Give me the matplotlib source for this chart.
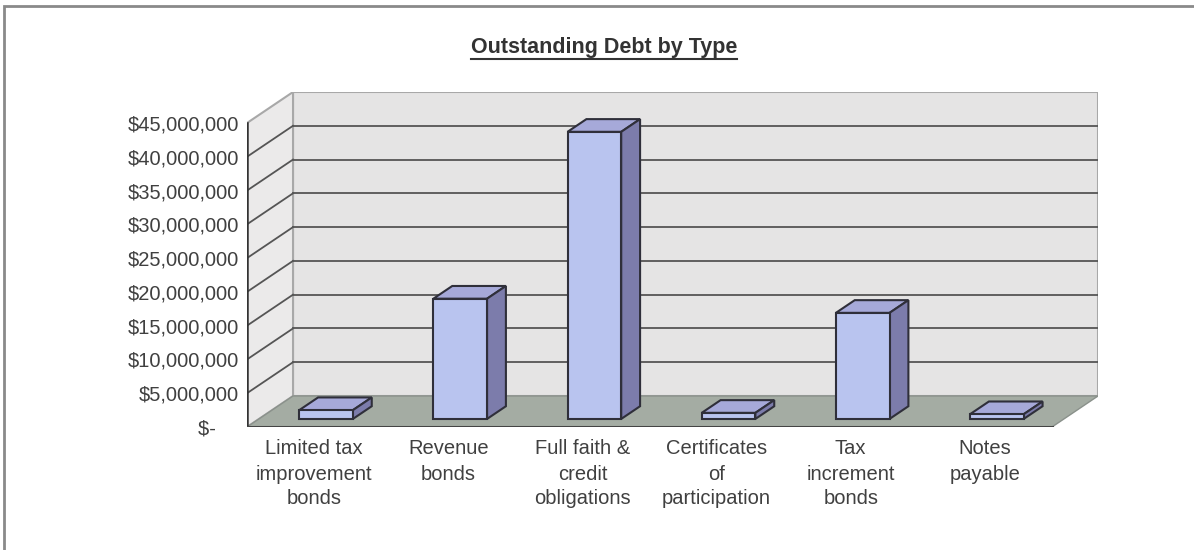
import matplotlib.pyplot as plt
from matplotlib.patches import Polygon, Rectangle
from matplotlib.lines import Line2D

plt.rcParams['font.family'] = ['Liberation Sans', 'DejaVu Sans']

# Outstanding debt by type
categories = ['Limited tax\nimprovement\nbonds', 'Revenue\nbonds', 'Full faith &\ncredit\nobligations',
              'Certificates\nof\nparticipation', 'Tax\nincrement\nbonds', 'Notes\npayable']
debt = [1.3e6, 17.8e6, 42.5e6, 0.9e6, 15.7e6, 0.7e6]
ticks = [0, 5e6, 10e6, 15e6, 20e6, 25e6, 30e6, 35e6, 40e6, 45e6]
tick_labels = ['$-    '] + ['${:,.0f}'.format(t) for t in ticks[1:]]

# fake 3d: depth offset in data units
DX = 0.343
DY = 4.59e6
YMAX = ticks[-1]
N = len(categories)


def p(x, y, z):
    return (x + z * DX, y + z * DY)


W, H = 1194, 550
fig = plt.figure(figsize=(W / 100, H / 100), dpi=100)
ax = fig.add_axes([247 / W, 123 / H, (1098 - 247) / W, 335 / H])
ax.set_xlim(0, N + DX)
ax.set_ylim(0, YMAX + DY)
for s in ax.spines.values():
    s.set_visible(False)
ax.patch.set_alpha(0)

# walls and floor
back = [p(0, 0, 1), p(N, 0, 1), p(N, YMAX, 1), p(0, YMAX, 1)]
side = [p(0, 0, 0), p(0, 0, 1), p(0, YMAX, 1), p(0, YMAX, 0)]
floor = [p(0, 0, 0), p(N, 0, 0), p(N, 0, 1), p(0, 0, 1)]
ax.add_patch(Polygon(back, closed=True, fc='#e5e4e4', ec='#a8a8a8', lw=1.5, zorder=1))
ax.add_patch(Polygon(side, closed=True, fc='#ebeaea', ec='#a8a8a8', lw=1.5, zorder=1))
ax.add_patch(Polygon(floor, closed=True, fc='#a4aca3', ec='#8a918b', lw=1, zorder=1))

# gridlines
for t in ticks[1:-1]:
    ax.add_line(Line2D(*zip(p(0, t, 1), p(N, t, 1)), color='#555555', lw=1.3, zorder=2))
    ax.add_line(Line2D(*zip(p(0, t, 0), p(0, t, 1)), color='#555555', lw=1.3, zorder=2))

# front axis lines
ax.add_line(Line2D([0, 0], [0, YMAX], color='#333333', lw=1.8, zorder=3))
ax.add_line(Line2D([0, N], [0, 0], color='#444444', lw=2.2, zorder=3))

# bars
hw = 0.2
z0, z1 = 0.26, 0.67
for i, v in enumerate(debt):
    xl, xr = i + 0.5 - hw, i + 0.5 + hw
    top = [p(xl, v, z0), p(xr, v, z0), p(xr, v, z1), p(xl, v, z1)]
    right = [p(xr, 0, z0), p(xr, 0, z1), p(xr, v, z1), p(xr, v, z0)]
    front = [p(xl, 0, z0), p(xr, 0, z0), p(xr, v, z0), p(xl, v, z0)]
    ax.add_patch(Polygon(top, closed=True, fc='#a6a9d9', ec='#2f2f3a', lw=1.5, zorder=4))
    ax.add_patch(Polygon(right, closed=True, fc='#7c7cab', ec='#2f2f3a', lw=1.5, zorder=4))
    ax.add_patch(Polygon(front, closed=True, fc='#b9c4ef', ec='#2f2f3a', lw=1.5, zorder=5))

# axis labels
ax.set_yticks(ticks)
ax.set_yticklabels(tick_labels, fontsize=14.5, color='#404040')
ax.set_xticks([i + 0.5 for i in range(N)])
ax.set_xticklabels(categories, fontsize=14.5, color='#404040', linespacing=1.4)
ax.tick_params(axis='y', length=0, pad=6)
ax.tick_params(axis='x', length=0, pad=9)

# title, underlined
title = fig.text(604 / W, 1 - 47 / H, 'Outstanding Debt by Type', ha='center', va='center',
                 fontsize=15.5, fontweight='bold', color='#333333')
fig.canvas.draw()
bb = title.get_window_extent()
fig.add_artist(Line2D([bb.x0 / W, bb.x1 / W], [(bb.y0 - 1) / H] * 2, color='#333333', lw=1.5))

# chart border
fig.add_artist(Rectangle((4 / W, -0.05), 1.1, 1 - 6 / H + 0.05, fill=False, ec='#8a8a8a', lw=2))

plt.savefig('out.png', dpi=100)
